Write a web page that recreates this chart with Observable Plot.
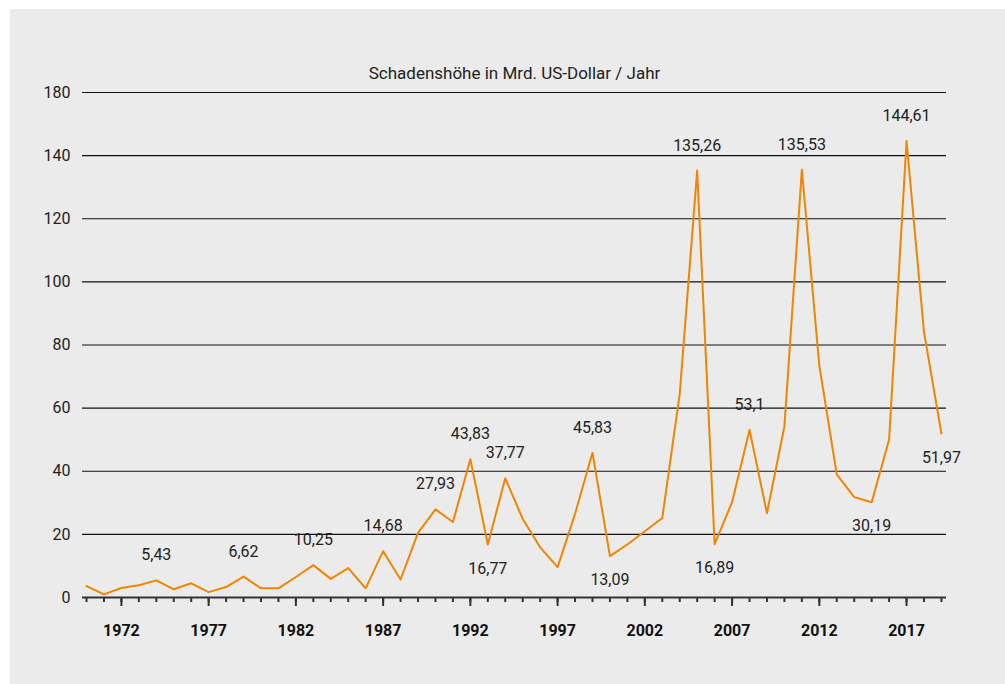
<!DOCTYPE html>
<html>
<head>
<meta charset="utf-8">
<script src="https://cdn.jsdelivr.net/npm/d3@7"></script>
<script src="https://cdn.jsdelivr.net/npm/@observablehq/plot@0.6"></script>
<style>
  html, body { margin: 0; padding: 0; background: #ffffff; }
  #bg { position: absolute; left: 10px; top: 9px; width: 995px; height: 675px; background: #ebebeb; }
  #chart { position: absolute; left: 0; top: 0; }
</style>
</head>
<body>
<div id="bg"></div>
<div id="chart"></div>
<script>
const title = "Schadenshöhe in Mrd. US-Dollar / Jahr";

const years = d3.range(1970, 2020);
const values = [
  3.6, 1.0, 3.0, 3.9, 5.43, 2.6, 4.5, 1.7, 3.3, 6.62,
  2.9, 2.9, 6.5, 10.25, 5.9, 9.3, 2.9, 14.68, 5.7, 20.5,
  27.93, 23.9, 43.83, 16.77, 37.77, 24.9, 15.9, 9.6, 26.5, 45.83,
  13.09, 16.8, 21.0, 25.2, 64.5, 135.26, 16.89, 30.2, 53.1, 26.7,
  54.2, 135.53, 73.5, 39.0, 31.8, 30.19, 50.0, 144.61, 84.1, 51.97
];

const labelYearsAbove = [1974, 1979, 1983, 1987, 1990, 1992, 1994, 1999, 2005, 2008, 2011, 2017];
const labelYearsBelow = [1993, 2000, 2006, 2015, 2019];

const majorYears = [1972, 1977, 1982, 1987, 1992, 1997, 2002, 2007, 2012, 2017];
const yTickValues = [0, 20, 40, 60, 80, 100, 120, 140, 160];
const yTickLabels = ["0", "20", "40", "60", "80", "100", "120", "140", "180"];

const data = years.map((year, i) => ({year, value: values[i]}));
const fmt = v => String(v).replace(".", ",");
const above = data.filter(d => labelYearsAbove.includes(d.year));
const below = data.filter(d => labelYearsBelow.includes(d.year));

const font = "Roboto, 'DejaVu Sans', sans-serif";
const ink = "#222222";

const chart = Plot.plot({
  width: 1005,
  height: 684,
  marginTop: 92,
  marginLeft: 82,
  marginRight: 59,
  marginBottom: 87,
  style: {background: "transparent", fontFamily: font, fontSize: "16px", color: ink},
  x: {type: "linear", domain: [1969.77, 2019.29]},
  y: {domain: [0, 160]},
  marks: [
    Plot.gridY(yTickValues.filter(v => v > 0), {stroke: "#111", strokeOpacity: 1, strokeWidth: 1.2}),
    Plot.axisY(yTickValues, {
      tickSize: 0, tickPadding: 12, fontSize: 16, fill: ink,
      tickFormat: v => yTickLabels[yTickValues.indexOf(v)], label: null
    }),
    Plot.axisX(years, {tickSize: 5, tickFormat: () => "", stroke: "#333", strokeWidth: 2, label: null}),
    Plot.axisX(majorYears, {
      tickSize: 9, tickPadding: 18, stroke: "#333", strokeWidth: 2,
      fontSize: 16, fontWeight: "bold", fill: "#111",
      tickFormat: d => String(d), label: null
    }),
    Plot.ruleY([0], {stroke: "#333", strokeWidth: 2}),
    Plot.line(data, {x: "year", y: "value", stroke: "#f08600", strokeWidth: 2}),
    Plot.text(above, {x: "year", y: "value", text: d => fmt(d.value), dy: -25, fill: ink, fontSize: 16}),
    Plot.text(below, {x: "year", y: "value", text: d => fmt(d.value), dy: 24, fill: ink, fontSize: 16}),
    Plot.text([title], {frameAnchor: "top", dy: -26, fill: ink, fontSize: 17})
  ]
});

document.getElementById("chart").appendChild(chart);
</script>
</body>
</html>
